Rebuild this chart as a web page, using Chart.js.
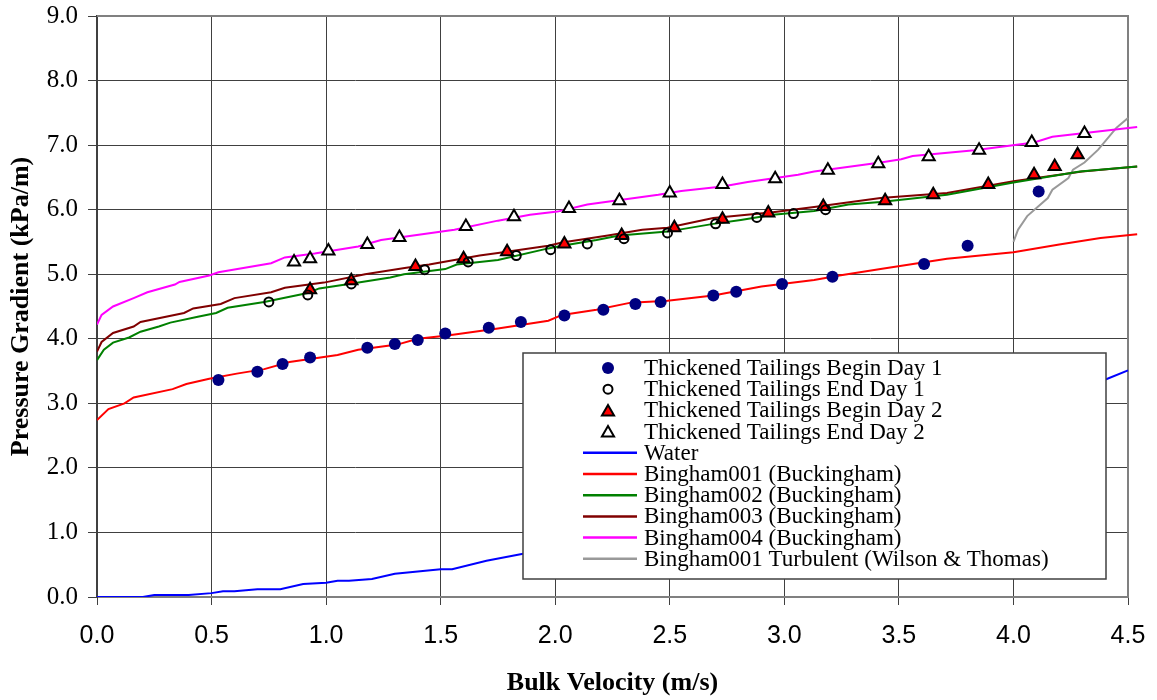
<!DOCTYPE html>
<html>
<head>
<meta charset="utf-8">
<script src="https://cdn.jsdelivr.net/npm/chart.js@4.4.1/dist/chart.umd.min.js"></script>
<style>
  html, body { margin: 0; padding: 0; background: #fff; }
  canvas { display: block; }
</style>
</head>
<body>
<canvas id="chart" width="1157" height="700"></canvas>
<script>
// measured points (bulk velocity m/s, pressure gradient kPa/m)
const beginDay1V = [0.53, 0.70, 0.81, 0.93, 1.18, 1.30, 1.40, 1.52, 1.71, 1.85, 2.04, 2.21, 2.35, 2.46, 2.69, 2.79, 2.99, 3.21, 3.61, 3.80, 4.11];
const beginDay1P = [3.36, 3.49, 3.61, 3.71, 3.86, 3.92, 3.98, 4.08, 4.17, 4.26, 4.36, 4.45, 4.54, 4.57, 4.67, 4.73, 4.85, 4.96, 5.16, 5.44, 6.28];

const endDay1V = [0.75, 0.92, 1.11, 1.43, 1.62, 1.83, 1.98, 2.14, 2.30, 2.49, 2.70, 2.88, 3.04, 3.18];
const endDay1P = [4.57, 4.68, 4.85, 5.07, 5.19, 5.29, 5.38, 5.47, 5.55, 5.64, 5.78, 5.88, 5.94, 6.00];

const beginDay2V = [0.93, 1.11, 1.39, 1.60, 1.79, 2.04, 2.29, 2.52, 2.73, 2.93, 3.17, 3.44, 3.65, 3.89, 4.09, 4.18, 4.28];
const beginDay2P = [4.76, 4.90, 5.12, 5.24, 5.35, 5.47, 5.60, 5.72, 5.85, 5.95, 6.05, 6.14, 6.23, 6.39, 6.54, 6.67, 6.85];

const endDay2V = [0.86, 0.93, 1.01, 1.18, 1.32, 1.61, 1.82, 2.06, 2.28, 2.50, 2.73, 2.96, 3.19, 3.41, 3.63, 3.85, 4.08, 4.31];
const endDay2P = [5.19, 5.24, 5.36, 5.46, 5.57, 5.74, 5.89, 6.02, 6.14, 6.26, 6.39, 6.48, 6.61, 6.71, 6.82, 6.92, 7.04, 7.18];

// model curves
const waterV = [0, 0.2, 0.25, 0.4, 0.5, 0.55, 0.6, 0.7, 0.8, 0.9, 1.0, 1.05, 1.1, 1.2, 1.3, 1.5, 1.55, 1.7, 1.86, 2.2, 2.6, 3.0, 3.4, 3.8, 4.1, 4.41, 4.5];
const waterP = [0, 0, 0.03, 0.03, 0.06, 0.09, 0.09, 0.12, 0.12, 0.2, 0.22, 0.25, 0.25, 0.28, 0.36, 0.43, 0.43, 0.56, 0.67, 0.92, 1.25, 1.62, 2.05, 2.55, 2.95, 3.38, 3.51];

const b001V = [0, 0.05, 0.12, 0.16, 0.33, 0.39, 0.49, 0.61, 0.73, 0.84, 1.05, 1.14, 1.31, 1.40, 1.53, 1.75, 1.97, 2.03, 2.18, 2.33, 2.49, 2.69, 2.90, 3.13, 3.24, 3.42, 3.71, 4.0, 4.2, 4.38, 4.54];
const b001P = [2.74, 2.91, 3.0, 3.09, 3.22, 3.30, 3.38, 3.46, 3.53, 3.64, 3.75, 3.83, 3.91, 4.0, 4.05, 4.16, 4.28, 4.37, 4.45, 4.56, 4.59, 4.67, 4.81, 4.91, 4.98, 5.08, 5.24, 5.34, 5.46, 5.56, 5.62];

const b002V = [0, 0.03, 0.07, 0.14, 0.19, 0.27, 0.32, 0.44, 0.52, 0.57, 0.73, 0.92, 0.97, 1.10, 1.28, 1.34, 1.52, 1.57, 1.75, 1.97, 2.03, 2.18, 2.28, 2.49, 2.69, 2.81, 2.95, 3.13, 3.28, 3.42, 3.71, 4.0, 4.29, 4.54];
const b002P = [3.67, 3.83, 3.94, 4.02, 4.11, 4.19, 4.25, 4.34, 4.40, 4.48, 4.57, 4.71, 4.78, 4.85, 4.95, 5.0, 5.08, 5.15, 5.22, 5.40, 5.44, 5.53, 5.60, 5.66, 5.78, 5.84, 5.92, 5.98, 6.08, 6.12, 6.23, 6.42, 6.59, 6.67];

const b003V = [0, 0.02, 0.07, 0.16, 0.19, 0.38, 0.42, 0.54, 0.60, 0.76, 0.82, 0.99, 1.17, 1.35, 1.45, 1.67, 1.75, 1.97, 2.03, 2.23, 2.38, 2.49, 2.69, 2.95, 3.13, 3.42, 3.71, 4.0, 4.3, 4.54];
const b003P = [3.80, 3.95, 4.09, 4.19, 4.26, 4.40, 4.47, 4.54, 4.63, 4.72, 4.79, 4.87, 5.0, 5.10, 5.15, 5.29, 5.33, 5.44, 5.49, 5.60, 5.69, 5.72, 5.87, 5.96, 6.04, 6.18, 6.26, 6.44, 6.59, 6.67];

const b004V = [0, 0.02, 0.07, 0.16, 0.22, 0.34, 0.36, 0.49, 0.53, 0.76, 0.82, 0.95, 1.14, 1.24, 1.56, 1.75, 1.89, 2.01, 2.14, 2.45, 2.55, 2.73, 2.84, 3.06, 3.13, 3.42, 3.51, 3.56, 3.83, 4.09, 4.17, 4.54];
const b004P = [4.22, 4.37, 4.50, 4.63, 4.72, 4.84, 4.88, 4.98, 5.03, 5.17, 5.26, 5.32, 5.43, 5.53, 5.69, 5.83, 5.92, 5.97, 6.08, 6.23, 6.29, 6.36, 6.43, 6.54, 6.59, 6.73, 6.78, 6.83, 6.92, 7.04, 7.13, 7.28];

const turbV = [4.0, 4.02, 4.06, 4.15, 4.17, 4.24, 4.26, 4.31, 4.37, 4.45, 4.50, 4.54];
const turbP = [5.50, 5.69, 5.90, 6.18, 6.31, 6.49, 6.62, 6.73, 6.93, 7.27, 7.42, 7.58];

const xTicksMax = 4.5;
const yTicksMax = 9.0;

const serif = "'Liberation Serif', 'Times New Roman', serif";
const sans = "'Liberation Sans', Arial, sans-serif";

function pts(xs, ys) {
	return xs.map((x, i) => ({ x: x, y: ys[i] }));
}

// marker series
function markerSet(label, xs, ys, style, radius, fill, border, borderWidth) {
	return {
		label: label,
		data: pts(xs, ys),
		showLine: false,
		pointStyle: style,
		pointRadius: radius,
		pointBackgroundColor: fill,
		pointBorderColor: border,
		pointBorderWidth: borderWidth,
	};
}

// curve series
function lineSet(label, xs, ys, color) {
	return {
		label: label,
		data: pts(xs, ys),
		showLine: true,
		borderColor: color,
		borderWidth: 2,
		pointRadius: 0,
		tension: 0,
		clip: { left: 0, top: 0, right: 12, bottom: 0 },
	};
}

const datasets = [
	markerSet("Thickened Tailings Begin Day 1", beginDay1V, beginDay1P, "circle", 6, "#000080", "#000080", 0),
	markerSet("Thickened Tailings End Day 1", endDay1V, endDay1P, "circle", 4.5, "rgba(0,0,0,0)", "#000000", 2),
	markerSet("Thickened Tailings Begin Day 2", beginDay2V, beginDay2P, "triangle", 7, "#ff0000", "#000000", 2),
	markerSet("Thickened Tailings End Day 2", endDay2V, endDay2P, "triangle", 7, "#ffffff", "#000000", 2),
	lineSet("Water", waterV, waterP, "#0000ff"),
	lineSet("Bingham001 (Buckingham)", b001V, b001P, "#ff0000"),
	lineSet("Bingham002 (Buckingham)", b002V, b002P, "#008000"),
	lineSet("Bingham003 (Buckingham)", b003V, b003P, "#800000"),
	lineSet("Bingham004 (Buckingham)", b004V, b004P, "#ff00ff"),
	lineSet("Bingham001 Turbulent (Wilson & Thomas)", turbV, turbP, "#999999"),
];

// top and right edge of the plot area
const plotFrame = {
	id: "plotFrame",
	beforeDatasetsDraw(chart) {
		const { ctx, chartArea: a } = chart;
		ctx.save();
		ctx.strokeStyle = "#808080";
		ctx.lineWidth = 2;
		ctx.beginPath();
		ctx.moveTo(a.left, a.top);
		ctx.lineTo(a.right, a.top);
		ctx.lineTo(a.right, a.bottom);
		ctx.stroke();
		ctx.restore();
	},
};

function drawMarker(c, ds, x, y, r) {
	c.beginPath();
	if (ds.pointStyle === "triangle") {
		c.moveTo(x, y - r);
		c.lineTo(x + r * 0.866, y + r * 0.5);
		c.lineTo(x - r * 0.866, y + r * 0.5);
		c.closePath();
	} else {
		c.arc(x, y, r, 0, Math.PI * 2);
	}
	c.fillStyle = ds.pointBackgroundColor;
	c.fill();
	if (ds.pointBorderWidth) {
		c.lineWidth = ds.pointBorderWidth;
		c.strokeStyle = ds.pointBorderColor;
		c.stroke();
	}
}

// legend box inside the plot, like the excel one
const boxLegend = {
	id: "boxLegend",
	afterDatasetsDraw(chart) {
		const c = chart.ctx;
		const x0 = 523, y0 = 353, x1 = 1106, y1 = 579;
		c.save();
		c.fillStyle = "#ffffff";
		c.fillRect(x0, y0, x1 - x0, y1 - y0);
		c.strokeStyle = "#404040";
		c.lineWidth = 1.5;
		c.strokeRect(x0, y0, x1 - x0, y1 - y0);

		c.font = "23px " + serif;
		c.textBaseline = "middle";
		c.textAlign = "left";
		chart.data.datasets.forEach((ds, i) => {
			const y = 368 + i * 21.2;
			if (ds.showLine) {
				c.strokeStyle = ds.borderColor;
				c.lineWidth = 2.5;
				c.beginPath();
				c.moveTo(583, y);
				c.lineTo(637, y);
				c.stroke();
			} else {
				drawMarker(c, ds, 608, y + (ds.pointStyle === "triangle" ? 1.5 : 0), ds.pointRadius);
			}
			c.fillStyle = "#000000";
			c.fillText(ds.label, 644, y + 1);
		});
		c.restore();
	},
};

const ctx = document.getElementById("chart");
const chart = new Chart(ctx, {
	type: "scatter",
	data: { datasets: datasets },
	options: {
		responsive: false,
		animation: false,
		layout: { padding: { top: 16, right: 29, left: 0, bottom: 0 } },
		plugins: {
			legend: { display: false },
			tooltip: { enabled: false },
		},
		scales: {
			x: {
				type: "linear",
				min: 0,
				max: xTicksMax,
				afterFit: (s) => {
					s.height = 103;
					s.paddingLeft = 0;
					s.paddingRight = 0;
				},
				ticks: {
					stepSize: 0.5,
					padding: 16,
					color: "#000000",
					font: { family: sans, size: 25 },
					callback: (v) => v.toFixed(1),
				},
				grid: { color: "#404040", lineWidth: 1, tickLength: 8, tickColor: "#404040" },
				border: { color: "#808080", width: 2 },
				title: {
					display: true,
					text: "Bulk Velocity (m/s)",
					color: "#000000",
					font: { family: serif, size: 26, weight: "bold" },
					padding: { top: 0, bottom: 1 },
				},
			},
			y: {
				type: "linear",
				min: 0,
				max: yTicksMax,
				afterFit: (s) => {
					s.width = 97;
					s.paddingTop = 0;
					s.paddingBottom = 0;
				},
				ticks: {
					stepSize: 1,
					padding: 10,
					color: "#000000",
					font: { family: serif, size: 25 },
					callback: (v) => v.toFixed(1),
				},
				grid: { color: "#404040", lineWidth: 1, tickLength: 9, tickColor: "#404040" },
				border: { color: "#404040", width: 2 },
				title: {
					display: true,
					text: "Pressure Gradient (kPa/m)",
					color: "#000000",
					font: { family: serif, size: 26, weight: "bold" },
					padding: { top: 6, bottom: 0 },
				},
			},
		},
	},
	plugins: [plotFrame, boxLegend],
});
</script>
</body>
</html>
